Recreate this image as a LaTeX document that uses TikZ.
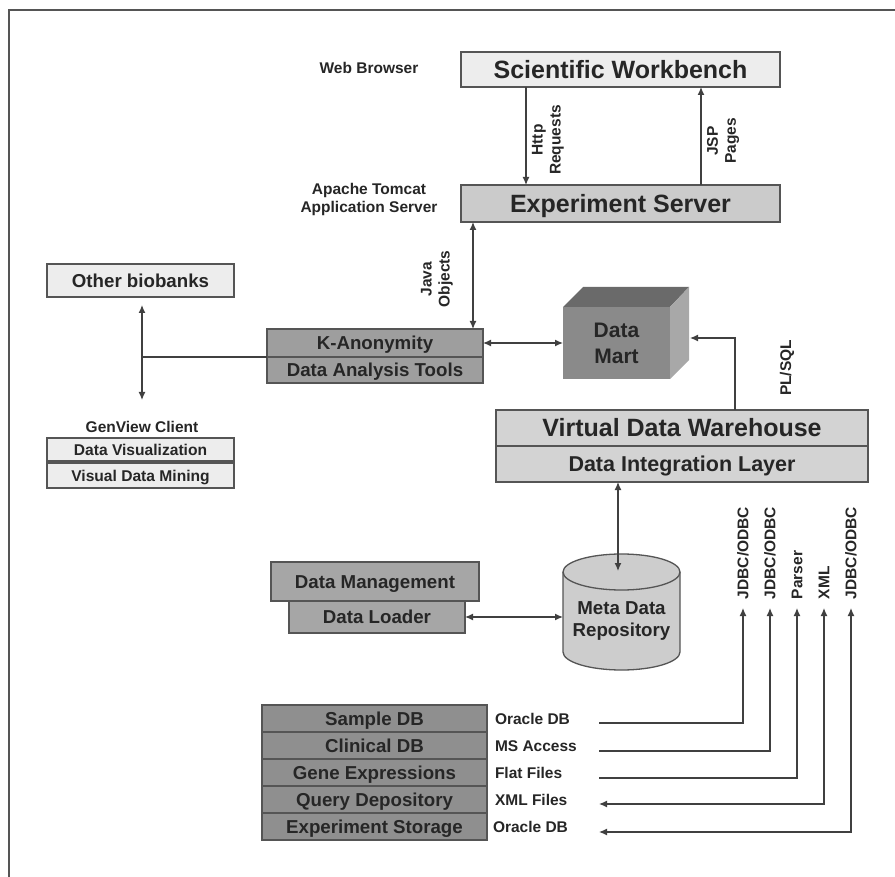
\documentclass[tikz,border=0pt]{standalone}
\usepackage{fontspec}
\setmainfont{Liberation Sans}
\usetikzlibrary{arrows.meta}
\definecolor{ink}{HTML}{262626}
\definecolor{edge}{HTML}{555555}
\definecolor{wire}{HTML}{404040}
\definecolor{pale}{HTML}{EDEDED}
\definecolor{esfill}{HTML}{CBCBCB}
\definecolor{kafill}{HTML}{9E9E9E}
\definecolor{vdwfill}{HTML}{D3D3D3}
\definecolor{dmfill}{HTML}{A6A6A6}
\definecolor{dbfill}{HTML}{8F8F8F}
\definecolor{cylfill}{HTML}{CDCDCD}
\definecolor{cubefront}{HTML}{8A8A8A}
\definecolor{cubetop}{HTML}{6A6A6A}
\definecolor{cubeside}{HTML}{A8A8A8}
\tikzset{
  box/.style={draw=edge, line width=1.4pt, inner sep=0pt, outer sep=0pt, anchor=north west,
    text=ink, font=\bfseries\fontsize{18.7}{22}\selectfont, text height=13.4pt, text depth=0pt},
  big/.style={font=\bfseries\fontsize{25}{29}\selectfont, text height=17.9pt, text depth=0pt},
  mid/.style={font=\bfseries\fontsize{21.5}{25}\selectfont, text height=15.4pt, text depth=0pt},
  small/.style={font=\bfseries\fontsize{15.6}{19}\selectfont, text height=11.2pt, text depth=0pt},
  lbl/.style={text=ink, inner sep=0pt, outer sep=0pt, align=center, font=\bfseries\fontsize{15.5}{18}\selectfont},
  conn/.style={draw=wire, line width=1.3pt},
  tip/.style={-{Latex[length=8pt,width=7pt]}},
  both/.style={{Latex[length=8pt,width=7pt]}-{Latex[length=8pt,width=7pt]}}
}
\begin{document}
\begin{tikzpicture}[x=1pt,y=-1pt]
\useasboundingbox (0,0) rectangle (895,877);
% frame
\draw[edge, line width=1.5pt] (9,877) -- (9,10) -- (895,10);

% top
\node[lbl] (wb) at (369,68) {Web Browser};
\node[box, big, fill=pale, minimum width=319pt, minimum height=35pt] (sw) at (461,52) {Scientific Workbench};
\node[lbl] (tomcat) at (369,199) {Apache Tomcat\\Application Server};
\node[box, big, fill=esfill, minimum width=319pt, minimum height=37pt] (es) at (461,185) {Experiment Server};
\coordinate (hx) at (526,0);
\coordinate (jspx) at (701,0);
\draw[conn,tip] (sw.south -| hx) -- (es.north -| hx);
\draw[conn,tip] (es.north -| jspx) -- (sw.south -| jspx);
\node[lbl, rotate=90] (http) at (548,140) {Http\\Requests};
\node[lbl, rotate=90] (jsp) at (723,141) {JSP\\Pages};

% K-anonymity
\node[box, fill=kafill, minimum width=216pt, minimum height=28pt] (ka) at (267,329) {K-Anonymity};
\node[box, fill=kafill, minimum width=216pt, minimum height=26pt] (dat) at (267,357) {Data Analysis Tools};
\coordinate (jx) at (473,0);
\draw[conn,both] (es.south -| jx) -- (ka.north -| jx);
\node[lbl, rotate=90] (java) at (437,279) {Java\\Objects};

% other biobanks / genview
\node[box, fill=pale, minimum width=187pt, minimum height=33pt] (ob) at (47,264) {Other biobanks};
\node[lbl] (gvl) at (142,427) {GenView Client};
\node[box, small, fill=pale, minimum width=187pt, minimum height=23pt] (dv) at (47,438) {Data Visualization};
\node[box, small, fill=pale, minimum width=187pt, minimum height=25pt] (vdm) at (47,463) {Visual Data Mining};
\draw[edge, line width=2.6pt] (dv.south west) -- (dv.south east);
\coordinate (obtop) at (142,305);
\coordinate (obbot) at (142,400);
\coordinate (junc) at (142,357);
\draw[conn,both] (obtop) -- (obbot);
\draw[conn] (junc) -- (ka.south west);

% data mart cube
\fill[cubetop] (563,307) -- (583,287) -- (689,287) -- (670,307) -- cycle;
\fill[cubeside] (670,307) -- (689,287) -- (689,360) -- (670,379) -- cycle;
\node[fill=cubefront, inner sep=0pt, outer sep=0pt, anchor=north west, minimum width=107pt, minimum height=72pt,
  text=ink, align=center, font=\bfseries\fontsize{21}{26}\selectfont] (dm) at (563,307) {Data\\Mart};
\draw[conn,both] (ka.east) -- (ka.east -| dm.west);

% virtual data warehouse
\node[box, big, fill=vdwfill, minimum width=372pt, minimum height=36pt] (vdw) at (496,410) {Virtual Data Warehouse};
\node[box, mid, fill=vdwfill, minimum width=372pt, minimum height=36pt] (dil) at (496,446) {Data Integration Layer};
\coordinate (plx) at (735,0);
\coordinate (dmr) at (690,338);
\draw[conn,tip] (vdw.north -| plx) |- (dmr);
\node[lbl, rotate=90] (plsql) at (787,368) {PL/SQL};

% meta data repository cylinder
\draw[edge, line width=1.3pt, fill=cylfill] (563,572) -- (563,652) arc[start angle=180, end angle=360, x radius=58.5pt, y radius=18pt] -- (680,572) arc[start angle=0, end angle=180, x radius=58.5pt, y radius=18pt] -- cycle;
\draw[edge, line width=1.3pt] (563,572) arc[start angle=180, end angle=360, x radius=58.5pt, y radius=18pt];
\node[lbl, font=\bfseries\fontsize{18.7}{22}\selectfont] (mdr) at (621.5,621) {Meta Data\\Repository};
\coordinate (mtop) at (618,571);
\coordinate (mleft) at (563,617);
\draw[conn,both] (dil.south -| mtop) -- (mtop);

% data management
\node[box, fill=dmfill, minimum width=208pt, minimum height=39pt] (dmg) at (271,562) {Data Management};
\node[box, fill=dmfill, minimum width=176pt, minimum height=32pt] (dl) at (289,601) {Data Loader};
\draw[conn,both] (dl.east) -- (mleft);

% sources
\node[box, fill=dbfill, minimum width=225pt, minimum height=27pt] (r1) at (262,705) {Sample DB};
\node[box, fill=dbfill, minimum width=225pt, minimum height=27pt] (r2) at (262,732) {Clinical DB};
\node[box, fill=dbfill, minimum width=225pt, minimum height=27pt] (r3) at (262,759) {Gene Expressions};
\node[box, fill=dbfill, minimum width=225pt, minimum height=27pt] (r4) at (262,786) {Query Depository};
\node[box, fill=dbfill, minimum width=225pt, minimum height=27pt] (r5) at (262,813) {Experiment Storage};
\node[lbl, anchor=west] (t1) at (495,719) {Oracle DB};
\node[lbl, anchor=west] (t2) at (495,746) {MS Access};
\node[lbl, anchor=west] (t3) at (495,773) {Flat Files};
\node[lbl, anchor=west] (t4) at (495,800) {XML Files};
\node[lbl, anchor=west] (t5) at (493,827) {Oracle DB};

\coordinate (l1) at (599,723);
\coordinate (l2) at (599,751);
\coordinate (l3) at (599,778);
\coordinate (l4) at (599,804);
\coordinate (l5) at (599,832);
\coordinate (v1) at (743,608);
\coordinate (v2) at (770,608);
\coordinate (v3) at (797,608);
\coordinate (v4) at (824,608);
\coordinate (v5) at (851,608);
\draw[conn,tip] (l1) -| (v1);
\draw[conn,tip] (l2) -| (v2);
\draw[conn,tip] (l3) -| (v3);
\draw[conn,both] (l4) -| (v4);
\draw[conn,both] (l5) -| (v5);
\node[lbl, rotate=90, anchor=west] (j1) at (743,599) {JDBC/ODBC};
\node[lbl, rotate=90, anchor=west] (j2) at (770,599) {JDBC/ODBC};
\node[lbl, rotate=90, anchor=west] (j3) at (797,599) {Parser};
\node[lbl, rotate=90, anchor=west] (j4) at (824,599) {XML};
\node[lbl, rotate=90, anchor=west] (j5) at (851,599) {JDBC/ODBC};
\end{tikzpicture}
\end{document}
